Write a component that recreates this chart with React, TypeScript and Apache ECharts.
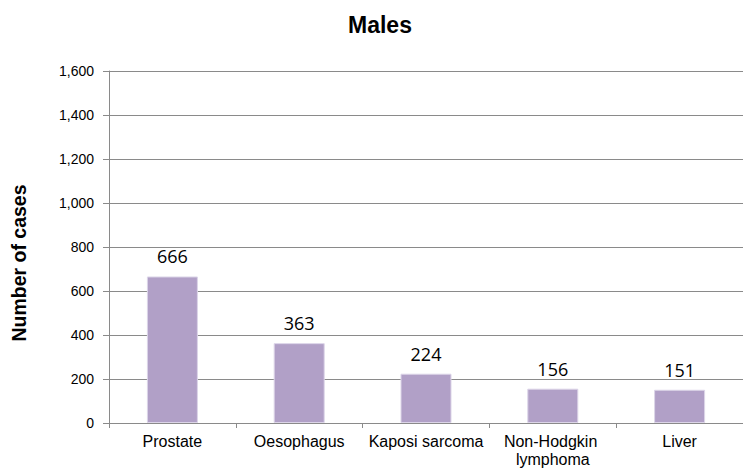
import React, { useEffect, useRef } from "react";
import * as echarts from "echarts";

const categories = ["Prostate", "Oesophagus", "Kaposi sarcoma", "Non-Hodgkin lymphoma", "Liver"];
const cases = [666, 363, 224, 156, 151];
const yTicks = { min: 0, max: 1600, interval: 200 };
const chartTitle = "Males";
const yName = "Number of cases";

export default function App() {
  const ref = useRef<HTMLDivElement>(null);
  useEffect(() => {
    if (!ref.current) return;
    const chart = echarts.init(ref.current, undefined, { renderer: "svg" });
    const grey = "#8A8A8A";
    chart.setOption({
      animation: false,
      backgroundColor: "#ffffff",
      title: {
        text: chartTitle,
        left: 348,
        top: 13,
        padding: 0,
        textStyle: { fontFamily: "Liberation Sans", fontWeight: "bold", fontSize: 23, color: "#000" },
      },
      grid: { left: 109, top: 71, bottom: 46, width: 642, containLabel: false },
      xAxis: {
        type: "category",
        data: categories,
        axisLine: { show: true, lineStyle: { color: grey, width: 1 } },
        axisTick: { show: true, length: 5, lineStyle: { color: grey }, alignWithLabel: false },
        axisLabel: {
          interval: 0,
          margin: 9,
          fontFamily: "Liberation Sans",
          fontSize: 16,
          lineHeight: 18,
          color: "#000",
          width: 122,
          overflow: "break",
        },
        splitLine: { show: false },
      },
      yAxis: {
        type: "value",
        min: yTicks.min,
        max: yTicks.max,
        interval: yTicks.interval,
        name: yName,
        nameLocation: "middle",
        nameRotate: 90,
        nameGap: 80,
        nameTextStyle: {
          fontFamily: "Liberation Sans",
          fontWeight: "bold",
          fontSize: 19.5,
          color: "#000",
          padding: [0, 32, 0, 0],
        },
        axisLine: { show: true, lineStyle: { color: grey, width: 1 } },
        axisTick: { show: true, inside: false, length: 6, lineStyle: { color: grey } },
        axisLabel: {
          margin: 15,
          fontFamily: "Liberation Sans",
          fontSize: 14,
          color: "#000",
          formatter: (v: number) => v.toLocaleString("en-US"),
        },
        splitLine: { show: true, lineStyle: { color: grey, width: 1 } },
      },
      series: [
        {
          type: "bar",
          data: cases,
          barWidth: 51,
          itemStyle: { color: "#B1A0C7", borderColor: "#DCD5E8", borderWidth: 1 },
          label: {
            show: true,
            position: "top",
            distance: 11,
            fontFamily: "Open Sans",
            fontSize: 18,
            color: "#000",
          },
        },
      ],
    });
    return () => chart.dispose();
  }, []);
  return <div ref={ref} style={{ width: 743, height: 469, position: "absolute", left: 0, top: 0 }} />;
}
